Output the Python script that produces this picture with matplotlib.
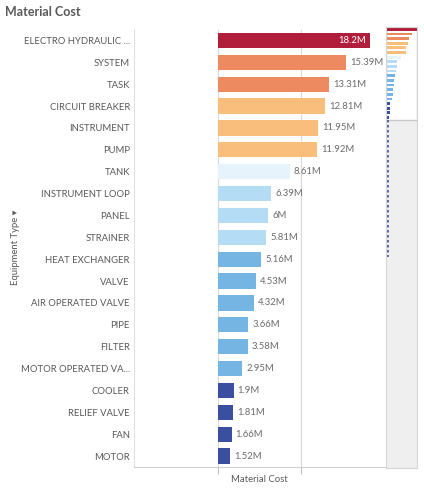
import matplotlib.pyplot as plt
from matplotlib.patches import Rectangle

# data
categories = ["ELECTRO HYDRAULIC ...", "SYSTEM", "TASK", "CIRCUIT BREAKER", "INSTRUMENT",
              "PUMP", "TANK", "INSTRUMENT LOOP", "PANEL", "STRAINER", "HEAT EXCHANGER",
              "VALVE", "AIR OPERATED VALVE", "PIPE", "FILTER", "MOTOR OPERATED VA...",
              "COOLER", "RELIEF VALVE", "FAN", "MOTOR"]
values = [18.2, 15.39, 13.31, 12.81, 11.95, 11.92, 8.61, 6.39, 6.0, 5.81, 5.16,
          4.53, 4.32, 3.66, 3.58, 2.95, 1.9, 1.81, 1.66, 1.52]
value_labels = ["18.2M", "15.39M", "13.31M", "12.81M", "11.95M", "11.92M", "8.61M",
                "6.39M", "6M", "5.81M", "5.16M", "4.53M", "4.32M", "3.66M", "3.58M",
                "2.95M", "1.9M", "1.81M", "1.66M", "1.52M"]
colors = ["#b01e3c", "#ee8a5f", "#ee8a5f", "#f9bd7c", "#f9bd7c", "#f9bd7c", "#e6f3fc",
          "#b5dcf5", "#b5dcf5", "#b5dcf5", "#75b5e3", "#75b5e3", "#75b5e3", "#75b5e3",
          "#75b5e3", "#75b5e3", "#3b4fa0", "#3b4fa0", "#3b4fa0", "#3b4fa0"]
total_items = 95  # rows in the full list (scroll track)
tail_end = 49     # tiny bars still visible in the minimap

plt.rcParams['font.family'] = ['Lato', 'DejaVu Sans']
grey = "#595959"

fig = plt.figure(figsize=(4.24, 4.88), dpi=100)
ax = fig.add_axes([134 / 424, 21 / 488, 251 / 424, 437.5 / 488])

ypos = list(range(len(categories)))
ax.barh(ypos, values, height=0.7, color=colors, zorder=3)
ax.set_xlim(-10, 20)
ax.set_ylim(len(categories) - 0.5, -0.5)
ax.set_yticks(ypos)
ax.set_yticklabels(categories, fontsize=6.8, color=grey)
ax.tick_params(axis='y', length=0, pad=3)
ax.set_xticks([0, 10])
ax.set_xticklabels([])
ax.tick_params(axis='x', length=5, color="#bfbfbf", width=0.8)
ax.grid(axis='x', color="#d9d9d9", linewidth=0.8, zorder=0)
for s in ["top", "right"]:
    ax.spines[s].set_visible(False)
ax.spines["left"].set_color("#e0e0e0")
ax.spines["bottom"].set_color("#d0d0d0")

for i, (v, lab) in enumerate(zip(values, value_labels)):
    if i == 0:
        ax.annotate(lab, (v, i), xytext=(-3, 0), textcoords="offset points",
                    ha="right", va="center", fontsize=6.8, color="white", zorder=4)
    else:
        ax.annotate(lab, (v, i), xytext=(3, 0), textcoords="offset points",
                    ha="left", va="center", fontsize=6.8, color="#6b6b6b", zorder=4)

fig.text(259.5 / 424, 1 - 480 / 488, "Material Cost", fontsize=6.8, color=grey,
         ha="center", va="center")
fig.text(16 / 424, 1 - 247 / 488, "Equipment Type \u25be", rotation=90, fontsize=6.8,
         color=grey, ha="center", va="center")
fig.text(5 / 424, 1 - 12 / 488, "Material Cost", fontsize=9, fontweight="bold",
         color=grey, ha="left", va="center")

# minimap / scrollbar
mm = fig.add_axes([386 / 424, 20 / 488, 31 / 424, 441 / 488])
mm.set_facecolor("#efefef")
mm.set_xlim(-0.6, 18.4)
mm.set_ylim(total_items - 0.5, -0.5)
mm.add_patch(Rectangle((-0.6, -0.5), 19, len(categories), facecolor="white",
                       edgecolor="#c8c8c8", linewidth=1, zorder=1))
mm.barh(ypos, values, height=0.6, color=colors, zorder=2)
mm.plot([0.5, 0.5], [len(categories) - 0.5, tail_end], color="#3b4fa0",
        linestyle=(0, (1.5, 1.5)), linewidth=1.2, zorder=2)
mm.set_xticks([])
mm.set_yticks([])
for s in mm.spines.values():
    s.set_color("#d6d6d6")

fig.savefig("out.png", dpi=100)
